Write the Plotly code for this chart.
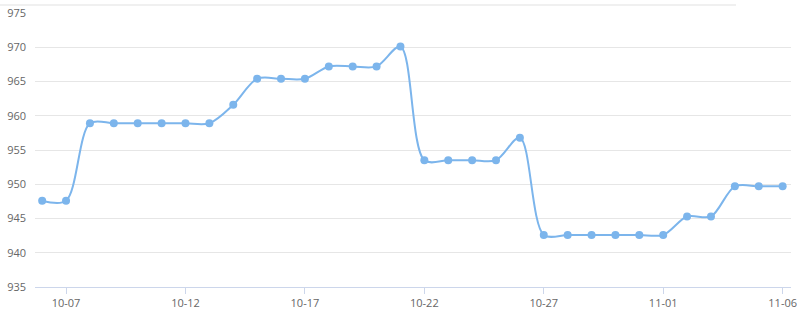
import plotly.graph_objects as go

dates = ["10-06", "10-07", "10-08", "10-09", "10-10", "10-11", "10-12", "10-13",
         "10-14", "10-15", "10-16", "10-17", "10-18", "10-19", "10-20", "10-21",
         "10-22", "10-23", "10-24", "10-25", "10-26", "10-27", "10-28", "10-29",
         "10-30", "10-31", "11-01", "11-02", "11-03", "11-04", "11-05", "11-06"]
values = [947.6, 947.6, 958.9, 958.9, 958.9, 958.9, 958.9, 958.9,
          961.6, 965.4, 965.4, 965.4, 967.2, 967.2, 967.2, 970.1,
          953.5, 953.5, 953.5, 953.5, 956.8, 942.6, 942.6, 942.6,
          942.6, 942.6, 942.6, 945.3, 945.3, 949.7, 949.7, 949.7]
x_ticks = dates[1::5]
y_ticks = [935, 940, 945, 950, 955, 960, 965, 970, 975]

fig = go.Figure()
fig.add_trace(go.Scatter(
    x=dates, y=values, mode="lines+markers",
    line=dict(color="#7cb5ec", width=2, shape="spline", smoothing=0.9),
    marker=dict(color="#7cb5ec", size=8),
    hoverinfo="x+y", showlegend=False,
))

fig.add_shape(type="line", xref="paper", yref="paper",
              x0=-35/756, x1=(736-35)/756, y0=(313-4.5-25.5)/275, y1=(313-4.5-25.5)/275,
              line=dict(color="#f0f0f0", width=2))

fig.update_layout(
    width=800, height=313,
    margin=dict(l=35, r=9, t=12.5, b=25.5, autoexpand=False),
    paper_bgcolor="white", plot_bgcolor="white",
    font=dict(family="Open Sans, sans-serif", size=11, color="#666666"),
    xaxis=dict(
        type="category", range=[-0.3, 31.35], automargin=False,
        tickvals=x_ticks, ticktext=x_ticks,
        showgrid=False, showline=True, linecolor="#ccd6eb", linewidth=1,
        ticks="outside", ticklen=6, tickcolor="#ccd6eb",
        tickfont=dict(size=11, color="#666666"), zeroline=False,
    ),
    yaxis=dict(
        range=[935, 975], tickvals=y_ticks, automargin=False,
        showgrid=True, gridcolor="#e6e6e6", gridwidth=1,
        zeroline=False, showline=False, ticks="", ticklabelstandoff=8,
        tickfont=dict(size=11, color="#666666"),
    ),
)

fig.write_html("out.html")
